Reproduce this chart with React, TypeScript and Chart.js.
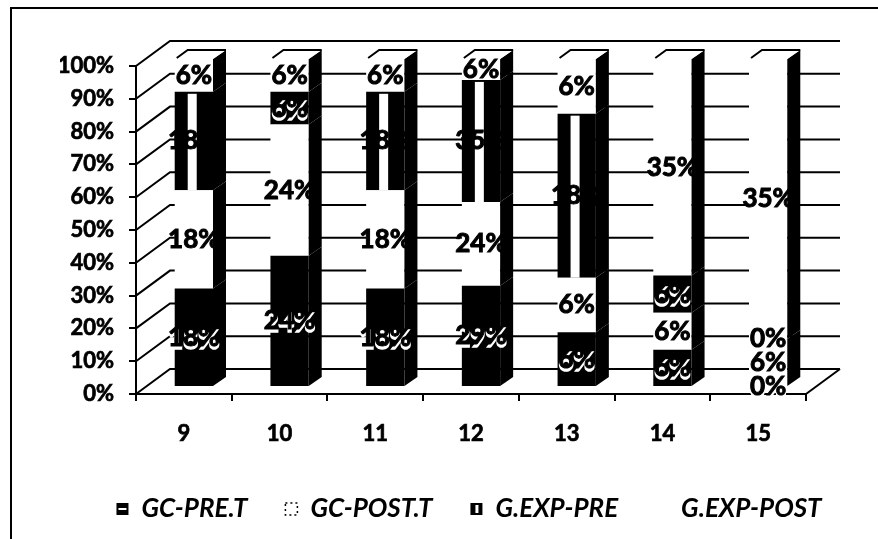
import React, { useEffect, useRef } from "react";
import { Chart, registerables } from "chart.js";

Chart.register(...registerables);

const grades = ["9", "10", "11", "12", "13", "14", "15"];
const gcPre = [18, 24, 18, 29, 6, 6, 0];
const gcPost = [18, 24, 18, 24, 6, 6, 6];
const expPre = [18, 6, 18, 35, 18, 6, 0];
const expPost = [6, 6, 6, 6, 6, 35, 35];
const yTicks = [0, 10, 20, 30, 40, 50, 60, 70, 80, 90, 100];

const seriesNames = ["GC-PRE.T", "GC-POST.T", "G.EXP-PRE", "G.EXP-POST"];
const seriesValues = [gcPre, gcPost, expPre, expPost];
const seriesColors = ["#000000", "#ffffff", "#000000", "#ffffff"];

const totals = grades.map((_, i) => seriesValues.reduce((s, a) => s + a[i], 0));
const share = (a: number[]) => a.map((v, i) => (v / totals[i]) * 100);

const BAR_DX = 10;
const BAR_DY = -7;
const DEPTH_X = 13;
const DEPTH_Y = -9;
const WALL_X = 34;
const WALL_Y = -25;
const FONT = "Lato, Carlito, sans-serif";

const wall3d = {
  id: "wall3d",
  beforeDatasetsDraw(chart: any) {
    const { ctx, chartArea, scales } = chart;
    ctx.save();
    ctx.strokeStyle = "#000";
    ctx.lineWidth = 2;
    for (const v of yTicks) {
      const y = scales.y.getPixelForValue(v);
      ctx.beginPath();
      ctx.moveTo(chartArea.left, y);
      ctx.lineTo(chartArea.left + WALL_X, y + WALL_Y);
      ctx.lineTo(chartArea.right + WALL_X, y + WALL_Y);
      ctx.stroke();
    }
    const y0 = scales.y.getPixelForValue(0);
    ctx.beginPath();
    ctx.moveTo(chartArea.right, y0);
    ctx.lineTo(chartArea.right + WALL_X, y0 + WALL_Y);
    ctx.stroke();
    ctx.restore();
    ctx.save();
    ctx.translate(BAR_DX, BAR_DY);
  },
  afterDatasetsDraw(chart: any) {
    const { ctx } = chart;
    const metas = chart.data.datasets.map((_: any, i: number) => chart.getDatasetMeta(i));

    // side and top faces
    metas.forEach((meta: any, di: number) => {
      meta.data.forEach((el: any) => {
        const { x, y, base, width } = el.getProps(["x", "y", "base", "width"], true);
        const r = x + width / 2;
        const l = x - width / 2;
        ctx.fillStyle = "#000";
        ctx.beginPath();
        ctx.moveTo(r, y);
        ctx.lineTo(r + DEPTH_X, y + DEPTH_Y);
        ctx.lineTo(r + DEPTH_X, base + DEPTH_Y);
        ctx.lineTo(r, base);
        ctx.closePath();
        ctx.fill();
        if (di === 2 && base - y > 60) {
          ctx.fillStyle = "#fff";
          ctx.fillRect(l + 13, y + 2, 9, base - y - 2);
        }
        if (di === metas.length - 1) {
          ctx.fillStyle = "#fff";
          ctx.beginPath();
          ctx.moveTo(l, y);
          ctx.lineTo(l + DEPTH_X, y + DEPTH_Y);
          ctx.lineTo(r + DEPTH_X, y + DEPTH_Y);
          ctx.lineTo(r, y);
          ctx.closePath();
          ctx.fill();
          ctx.strokeStyle = "#000";
          ctx.lineWidth = 2;
          ctx.beginPath();
          ctx.moveTo(l + 2, y - 1);
          ctx.lineTo(l + DEPTH_X, y + DEPTH_Y);
          ctx.lineTo(r + DEPTH_X, y + DEPTH_Y);
          ctx.stroke();
        }
      });
    });

    // value labels
    ctx.font = `bold 26px ${FONT}`;
    ctx.textAlign = "center";
    ctx.textBaseline = "middle";
    metas.forEach((meta: any, di: number) => {
      meta.data.forEach((el: any, i: number) => {
        const { x, y, base } = el.getProps(["x", "y", "base"], true);
        const cy = (y + base) / 2;
        const text = `${seriesValues[di][i]}%`;
        if (di === 0 || (di === 2 && base - y < 60 && base - y > 0)) {
          ctx.fillStyle = "#fff";
          ctx.strokeStyle = "#fff";
          ctx.lineWidth = 1.5;
          ctx.strokeText(text, x, cy + 3);
          ctx.fillText(text, x, cy + 3);
        }
        ctx.fillStyle = "#000";
        ctx.strokeStyle = "#000";
        ctx.lineWidth = 1;
        ctx.strokeText(text, x, cy);
        ctx.fillText(text, x, cy);
      });
    });
    ctx.restore();
  },
  afterDraw(chart: any) {
    // swatch details
    const { ctx } = chart;
    const boxes = chart.legend?.legendHitBoxes ?? [];
    const a = boxes[0];
    const c = boxes[2];
    ctx.save();
    ctx.fillStyle = "#fff";
    const h = 12;
    if (a) ctx.fillRect(a.left + 2, a.top + a.height / 2 - 1, 8, 2);
    if (c) ctx.fillRect(c.left + 5, c.top + a.height / 2 - h / 2 + 2, 3, h - 4);
    ctx.restore();
  },
};

export default function App() {
  const ref = useRef<HTMLCanvasElement | null>(null);

  useEffect(() => {
    const chart = new Chart(ref.current as HTMLCanvasElement, {
      type: "bar",
      data: {
        labels: grades,
        datasets: seriesNames.map((name, i) => ({
          label: name,
          data: share(seriesValues[i]),
          backgroundColor: seriesColors[i],
          borderWidth: 0,
          barPercentage: 0.8,
          categoryPercentage: 0.5,
          clip: false as any,
        })),
      },
      options: {
        responsive: false,
        animation: false,
        layout: { padding: { left: 60, right: 0, top: 66, bottom: 7 } },
        plugins: {
          tooltip: { enabled: false },
          legend: {
            position: "bottom",
            labels: {
              boxWidth: 12,
              boxHeight: 12,
              padding: 38,
              color: "#000",
              font: { family: FONT, size: 26, weight: "bold", style: "italic" },
              generateLabels: () =>
                seriesNames.map((name, i) => ({
                  text: name,
                  fillStyle: seriesColors[i],
                  strokeStyle: "#000",
                  lineWidth: i === 1 ? 1.5 : 0,
                  lineDash: i === 1 ? [2, 3] : [],
                  datasetIndex: i,
                })),
            },
          },
        },
        scales: {
          x: {
            stacked: true,
            afterFit: (s: any) => {
              s.height = 64;
            },
            grid: { drawOnChartArea: false, color: "#000", lineWidth: 2, tickLength: 7, tickWidth: 2, tickColor: "#000" },
            border: { color: "#000", width: 2 },
            ticks: {
              color: "#000",
              padding: 20,
              textStrokeColor: "#000",
              textStrokeWidth: 0.7,
              font: { family: FONT, size: 22, weight: "bold" },
              maxRotation: 0,
            },
          },
          y: {
            stacked: true,
            min: 0,
            max: 100,
            afterFit: (s: any) => {
              s.width = 76;
            },
            afterBuildTicks: (s: any) => {
              s.ticks = yTicks.map((value) => ({ value }));
            },
            grid: { drawOnChartArea: false, color: "#000", lineWidth: 2, tickLength: 7, tickWidth: 2, tickColor: "#000" },
            border: { color: "#000", width: 2 },
            ticks: {
              color: "#000",
              padding: 15,
              textStrokeColor: "#000",
              textStrokeWidth: 0.7,
              font: { family: FONT, size: 22, weight: "bold" },
              callback: (v: any) => `${v}%`,
            },
          },
          yRightGap: {
            position: "right",
            min: 0,
            max: 100,
            afterFit: (s: any) => {
              s.width = 72;
            },
            grid: { display: false },
            border: { display: false },
            ticks: { display: false },
          },
        },
      } as any,
      plugins: [wall3d],
    });
    return () => chart.destroy();
  }, []);

  return (
    <div style={{ position: "fixed", left: 0, top: 0, width: 878, height: 539, overflow: "hidden", background: "#fff" }}>
      <div
        style={{
          position: "absolute",
          left: 10,
          top: 7,
          width: 900,
          height: 600,
          borderLeft: "2px solid #000",
          borderTop: "2px solid #000",
        }}
      />
      <canvas ref={ref} width={878} height={539} style={{ position: "absolute", left: 0, top: 0 }} />
    </div>
  );
}
